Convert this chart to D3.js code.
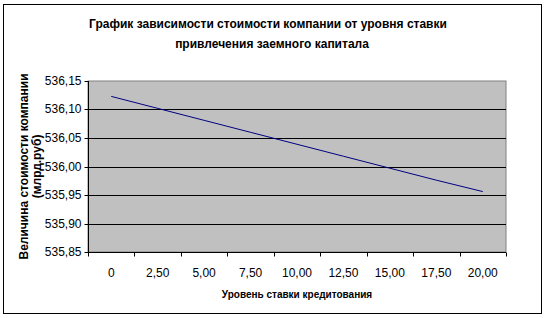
<!DOCTYPE html>
<html>
<head>
<meta charset="utf-8">
<script src="https://cdn.jsdelivr.net/npm/d3@7"></script>
<style>
  body { margin: 0; background: #fff; }
  text { font-family: "Liberation Sans", Arial, sans-serif; fill: #000; }
</style>
</head>
<body>
<div id="chart"></div>
<script>
var rates = ['0', '2,50', '5,00', '7,50', '10,00', '12,50', '15,00', '17,50', '20,00']
var values = [536.123, 536.102, 536.081, 536.060, 536.039, 536.018, 535.997, 535.976, 535.956]
var yTicks = [535.85, 535.90, 535.95, 536.00, 536.05, 536.10, 536.15]

var width = 545, height = 318
var plotL = 88, plotR = 506, plotT = 81, plotB = 252

var svg = d3.select('#chart').append('svg')
  .attr('width', width)
  .attr('height', height)

// outer frame
svg.append('rect')
  .attr('x', 3.5).attr('y', 4.5)
  .attr('width', 538).attr('height', 309)
  .attr('fill', '#fff')
  .attr('stroke', '#000')

var x = d3.scaleBand()
  .domain(rates)
  .range([plotL, plotR])
  .padding(0)

var y = d3.scaleLinear()
  .domain([535.85, 536.15])
  .range([plotB, plotT])

// plot area
svg.append('rect')
  .attr('x', plotL).attr('y', plotT)
  .attr('width', plotR - plotL).attr('height', plotB - plotT)
  .attr('fill', '#c0c0c0')
  .attr('stroke', '#808080')

// gridlines
svg.append('g')
  .selectAll('line')
  .data(yTicks.slice(1, -1))
  .enter().append('line')
  .attr('x1', plotL).attr('x2', plotR)
  .attr('y1', function(d) { return Math.round(y(d)) + 0.5 })
  .attr('y2', function(d) { return Math.round(y(d)) + 0.5 })
  .attr('stroke', '#000')

// y axis
var fmt = d3.format('.2f')
var yAxis = svg.append('g')
  .attr('transform', 'translate(' + (plotL + 0.5) + ',0)')
  .call(d3.axisLeft(y).tickValues(yTicks).tickSize(4).tickPadding(3)
    .tickFormat(function(d) { return fmt(d).replace('.', ',') }))
yAxis.select('.domain').attr('stroke', '#000').attr('d', 'M0,' + plotT + 'V' + (plotB + 0.5))
yAxis.selectAll('.tick line').attr('stroke', '#000')
yAxis.selectAll('.tick').attr('transform', function(d) { return 'translate(0,' + (Math.round(y(d)) + 0.5) + ')' })
yAxis.selectAll('text').attr('font-size', 12).attr('font-family', '"Liberation Sans", Arial, sans-serif')

// x axis: ticks at category boundaries
var xAxis = svg.append('g')
  .attr('transform', 'translate(0,' + (plotB + 0.5) + ')')
xAxis.append('line')
  .attr('x1', plotL).attr('x2', plotR)
  .attr('stroke', '#000')
xAxis.selectAll('.tk')
  .data(rates.concat(['end']))
  .enter().append('line')
  .attr('class', 'tk')
  .attr('x1', function(d, i) { return Math.round(plotL + i * x.bandwidth()) + 0.5 })
  .attr('x2', function(d, i) { return Math.round(plotL + i * x.bandwidth()) + 0.5 })
  .attr('y1', 0).attr('y2', 4)
  .attr('stroke', '#000')
xAxis.selectAll('.lb')
  .data(rates)
  .enter().append('text')
  .attr('class', 'lb')
  .attr('x', function(d) { return x(d) + x.bandwidth() / 2 })
  .attr('y', 24)
  .attr('text-anchor', 'middle')
  .attr('font-size', 12)
  .text(function(d) { return d })

// line
var line = d3.line()
  .x(function(d, i) { return x(rates[i]) + x.bandwidth() / 2 })
  .y(function(d) { return y(d) })
svg.append('path')
  .datum(values)
  .attr('d', line)
  .attr('fill', 'none')
  .attr('stroke', '#000080')
  .attr('stroke-width', 1)

// titles
svg.append('text')
  .attr('x', 268).attr('y', 28)
  .attr('text-anchor', 'middle')
  .attr('font-size', 12).attr('font-weight', 'bold')
  .text('График зависимости стоимости компании от уровня ставки')
svg.append('text')
  .attr('x', 272).attr('y', 48)
  .attr('text-anchor', 'middle')
  .attr('font-size', 12).attr('font-weight', 'bold')
  .text('привлечения заемного капитала')

svg.append('text')
  .attr('x', (plotL + plotR) / 2).attr('y', 298)
  .attr('text-anchor', 'middle')
  .attr('font-size', 10).attr('font-weight', 'bold')
  .text('Уровень ставки кредитования')

var yt = svg.append('text')
  .attr('transform', 'translate(0,' + ((plotT + plotB) / 2) + ') rotate(-90)')
  .attr('text-anchor', 'middle')
  .attr('font-size', 12).attr('font-weight', 'bold')
yt.append('tspan').attr('x', 0).attr('y', 28).text('Величина стоимости компании')
yt.append('tspan').attr('x', 0).attr('y', 41).text('(млрд.руб)')
</script>
</body>
</html>
